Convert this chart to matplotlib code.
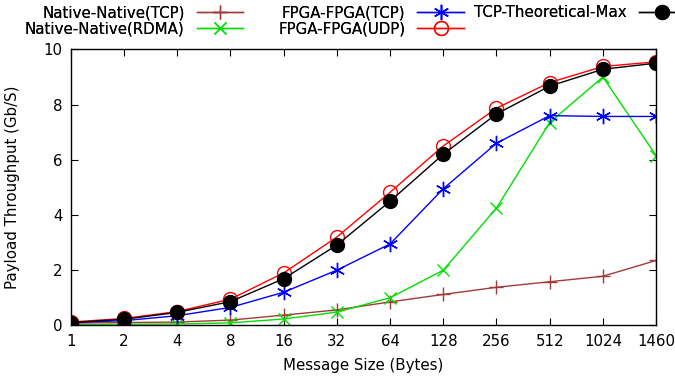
"""Payload throughput vs message size, gnuplot-like look."""

import matplotlib

matplotlib.use("Agg")
import matplotlib.pyplot as plt

msg_sizes = ["1", "2", "4", "8", "16", "32", "64", "128", "256", "512", "1024", "1460"]

native_tcp = [0.08, 0.10, 0.12, 0.19, 0.37, 0.56, 0.85, 1.12, 1.38, 1.58, 1.78, 2.35]
native_rdma = [0.02, 0.04, 0.05, 0.09, 0.23, 0.48, 1.0, 2.0, 4.25, 7.35, 9.0, 6.15]
fpga_tcp = [0.1, 0.17, 0.35, 0.65, 1.2, 2.0, 2.95, 4.95, 6.6, 7.6, 7.57, 7.57]
fpga_udp = [0.12, 0.25, 0.5, 0.95, 1.9, 3.2, 4.82, 6.5, 7.87, 8.8, 9.38, 9.55]
tcp_max = [0.1, 0.22, 0.47, 0.86, 1.69, 2.91, 4.5, 6.2, 7.66, 8.67, 9.28, 9.5]

plt.rcParams["font.family"] = ["DejaVu Sans"]
plt.rcParams["font.size"] = 10.8

fig = plt.figure(figsize=(6.75, 3.77), dpi=100)
ax = fig.add_axes([0.105, 0.137, 0.867, 0.732])

xs = list(range(len(msg_sizes)))
series = [
    ("Native-Native(TCP)", native_tcp, "#a33a3a", "+", dict(markersize=10, markeredgewidth=1.0)),
    ("Native-Native(RDMA)", native_rdma, "#00e000", "x", dict(markersize=9, markeredgewidth=1.0)),
    ("FPGA-FPGA(TCP)", fpga_tcp, "#0000ff", (6, 2, 0), dict(markersize=11, markeredgewidth=1.0)),
    ("FPGA-FPGA(UDP)", fpga_udp, "#ff0000", "o", dict(markersize=10, markerfacecolor="none", markeredgewidth=1.0)),
    ("TCP-Theoretical-Max", tcp_max, "black", "o", dict(markersize=10, markeredgewidth=1.0)),
]
handles = []
for label, vals, color, marker, kw in series:
    (line,) = ax.plot(xs, vals, color=color, marker=marker, linewidth=1.0, label=label, **kw)
    handles.append(line)

ax.set_xlim(0, len(msg_sizes) - 1)
ax.set_ylim(0, 10)
ax.set_xticks(xs)
ax.set_xticklabels(msg_sizes)
ax.set_yticks([0, 2, 4, 6, 8, 10])
ax.tick_params(direction="in", top=True, right=True, length=5, width=0.8, pad=6)
for spine in ax.spines.values():
    spine.set_linewidth(1.0)

ax.set_xlabel("Message Size (Bytes)", labelpad=7)
ax.set_ylabel("Payload Throughput (Gb/S)", labelpad=17)

# gnuplot-style key: three columns, text right-aligned before the sample
legend_cols = [(handles[0:2], 243), (handles[2:4], 464), (handles[4:5], 685)]
for col_handles, right_px in legend_cols:
    leg = fig.legend(
        handles=col_handles,
        loc="upper right",
        bbox_to_anchor=(right_px / 675, 1 - 5 / 377),
        frameon=False,
        markerfirst=False,
        handlelength=3.1,
        labelspacing=0.07,
        handletextpad=0.8,
        borderpad=0.0,
        borderaxespad=0.0,
    )
    fig.add_artist(leg)

fig.savefig("out.png", dpi=100)
